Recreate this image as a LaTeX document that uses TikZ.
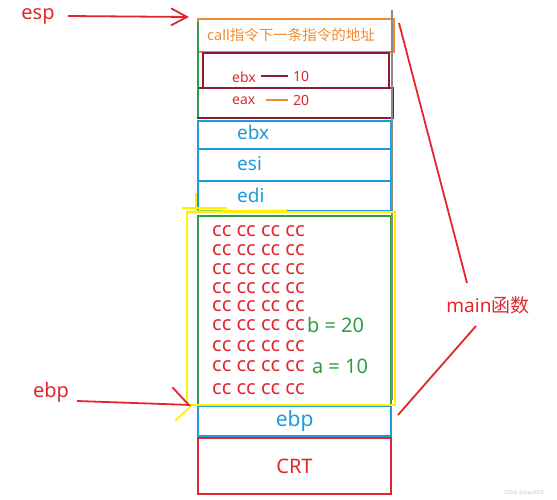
\documentclass[tikz,border=0pt]{standalone}
\usepackage{fontspec}
\setmainfont{Noto Sans}
\newfontfamily\cjk{Noto Sans CJK SC}
\usetikzlibrary{arrows.meta}
\definecolor{penred}{HTML}{E3262E}
\definecolor{penblue}{HTML}{1E9ADB}
\definecolor{pengreen}{HTML}{2E9E44}
\definecolor{penorange}{HTML}{F08A30}
\definecolor{penmaroon}{HTML}{8B1C31}
\definecolor{pengray}{HTML}{8A8A8A}
\definecolor{penyellow}{HTML}{FFF000}
\tikzset{
  slot/.style={draw, anchor=north west, inner sep=0pt, minimum width=#1},
  slot/.default=193pt,
  lbl/.style={anchor=west, inner sep=0pt},
  ccrow/.style={lbl, text height=10pt, text depth=0pt, font=\fontsize{20}{22}\selectfont},
  pointer/.style={penred, line width=1.8pt},
}
\begin{document}
\begin{tikzpicture}[x=1pt,y=-1pt]
\useasboundingbox (0,0) rectangle (557,500);

% stack frame slots
\node[slot=196pt, draw=penorange, line width=2pt, minimum height=33pt] (ret) at (197,18) {};
\node[slot=186pt, draw=penmaroon, line width=2pt, minimum height=35pt] (savebx) at (202,52) {};
\node[slot=195pt, draw=penmaroon, line width=2pt, minimum height=30pt] (saveax) at (197,87) {};
\node[slot, draw=penblue, line width=2.4pt, minimum height=28pt] (ebx) at (197,120) {};
\node[slot, draw=penblue, line width=2.4pt, minimum height=32pt] (esi) at (197,148) {};
\node[slot, draw=penblue, line width=2.4pt, minimum height=30pt] (edi) at (197,180) {};
\node[slot, draw=pengreen, line width=1.6pt, minimum height=190pt] (locals) at (197,215) {};
\node[slot, draw=penblue, line width=2.4pt, minimum height=30pt] (oldebp) at (197,405) {};
\node[slot, draw=penred, line width=2pt, minimum height=56pt] (crt) at (197,437) {};

% right edge and hand marks
\draw[pengray, line width=1.8pt] (392,10) -- (392,400);
\draw[pengreen, line width=1.4pt] (198,22) -- (198,117);
\draw[penyellow, line width=2.4pt] (187,212) rectangle (395,405);
\draw[penyellow, line width=2.8pt] (182,208) -- (227,208);
\draw[penyellow, line width=2.8pt] (187,212) -- (287,211);
\draw[penyellow, line width=1.6pt] (196,193) -- (196,210);
\draw[penyellow, line width=1.8pt] (175,421) -- (191,406);

% slot texts
\node[lbl, text=penorange, font=\fontsize{14.5}{16}\selectfont] (rettxt) at (207,35) {call\cjk 指令下一条指令的地址};
\node[lbl, text=penred, font=\fontsize{14}{16}\selectfont] (bxname) at (232,77) {ebx};
\node[lbl, text=penred, font=\fontsize{14}{16}\selectfont] (bxval) at (293,76) {10};
\draw[penmaroon, line width=1.4pt] (261,76) -- (288,76);
\node[lbl, text=penred, font=\fontsize{14}{16}\selectfont] (axname) at (232,101) {eax};
\node[lbl, text=penred, font=\fontsize{14}{16}\selectfont] (axval) at (293,100) {20};
\draw[penorange, line width=1.4pt] (266,100) -- (288,100);
\node[lbl, text=penblue, font=\fontsize{19}{22}\selectfont] at (237,132) {ebx};
\node[lbl, text=penblue, font=\fontsize{19}{22}\selectfont] at (237,164) {esi};
\node[lbl, text=penblue, font=\fontsize{19}{22}\selectfont] at (237,195) {edi};
\node[text=penblue, font=\fontsize{21}{24}\selectfont] at (oldebp.center) {ebp};
\node[text=penred, font=\fontsize{20}{24}\selectfont] at (crt.center) {CRT};

% locals filled with 0xcc
\foreach \i/\y in {1/231.5,2/250.5,3/269.5,4/288,5/306.5,6/325.5,7/346,8/366.5,9/389}
  \node[ccrow, text=penred] (row\i) at (212,\y) {cc cc cc cc};
\node[ccrow, text=pengreen, text height=14pt] (varb) at ([xshift=2pt]row6.east) {b = 20};
\node[ccrow, text=pengreen, text height=14pt] (vara) at ([xshift=7pt]row8.east) {a = 10};

% registers
\node[text=penred, font=\fontsize{20}{24}\selectfont] (esp) at (38,16) {esp};
\coordinate (esptip) at (189,17);
\draw[pointer, -{Straight Barb[length=16pt, width=17pt]}] (68,16) -- (esptip);
\node[text=penred, font=\fontsize{20}{24}\selectfont] (ebp) at (51,392) {ebp};
\coordinate (ebptip) at (191,405);
\draw[pointer, -{Straight Barb[left, length=17pt, width=34pt]}] (77,401) -- (ebptip);

% main frame
\node[text=penred, font=\fontsize{19}{22}\selectfont] (main) at (488,305) {main\cjk 函数};
\draw[pointer] (399,23) -- (467,283);
\draw[pointer] (476,326) -- (398,415);

\node[text=pengray!50, font=\fontsize{5}{6}\selectfont] (mark) at (524,493) {CSDN @Xua3055};
\end{tikzpicture}
\end{document}
